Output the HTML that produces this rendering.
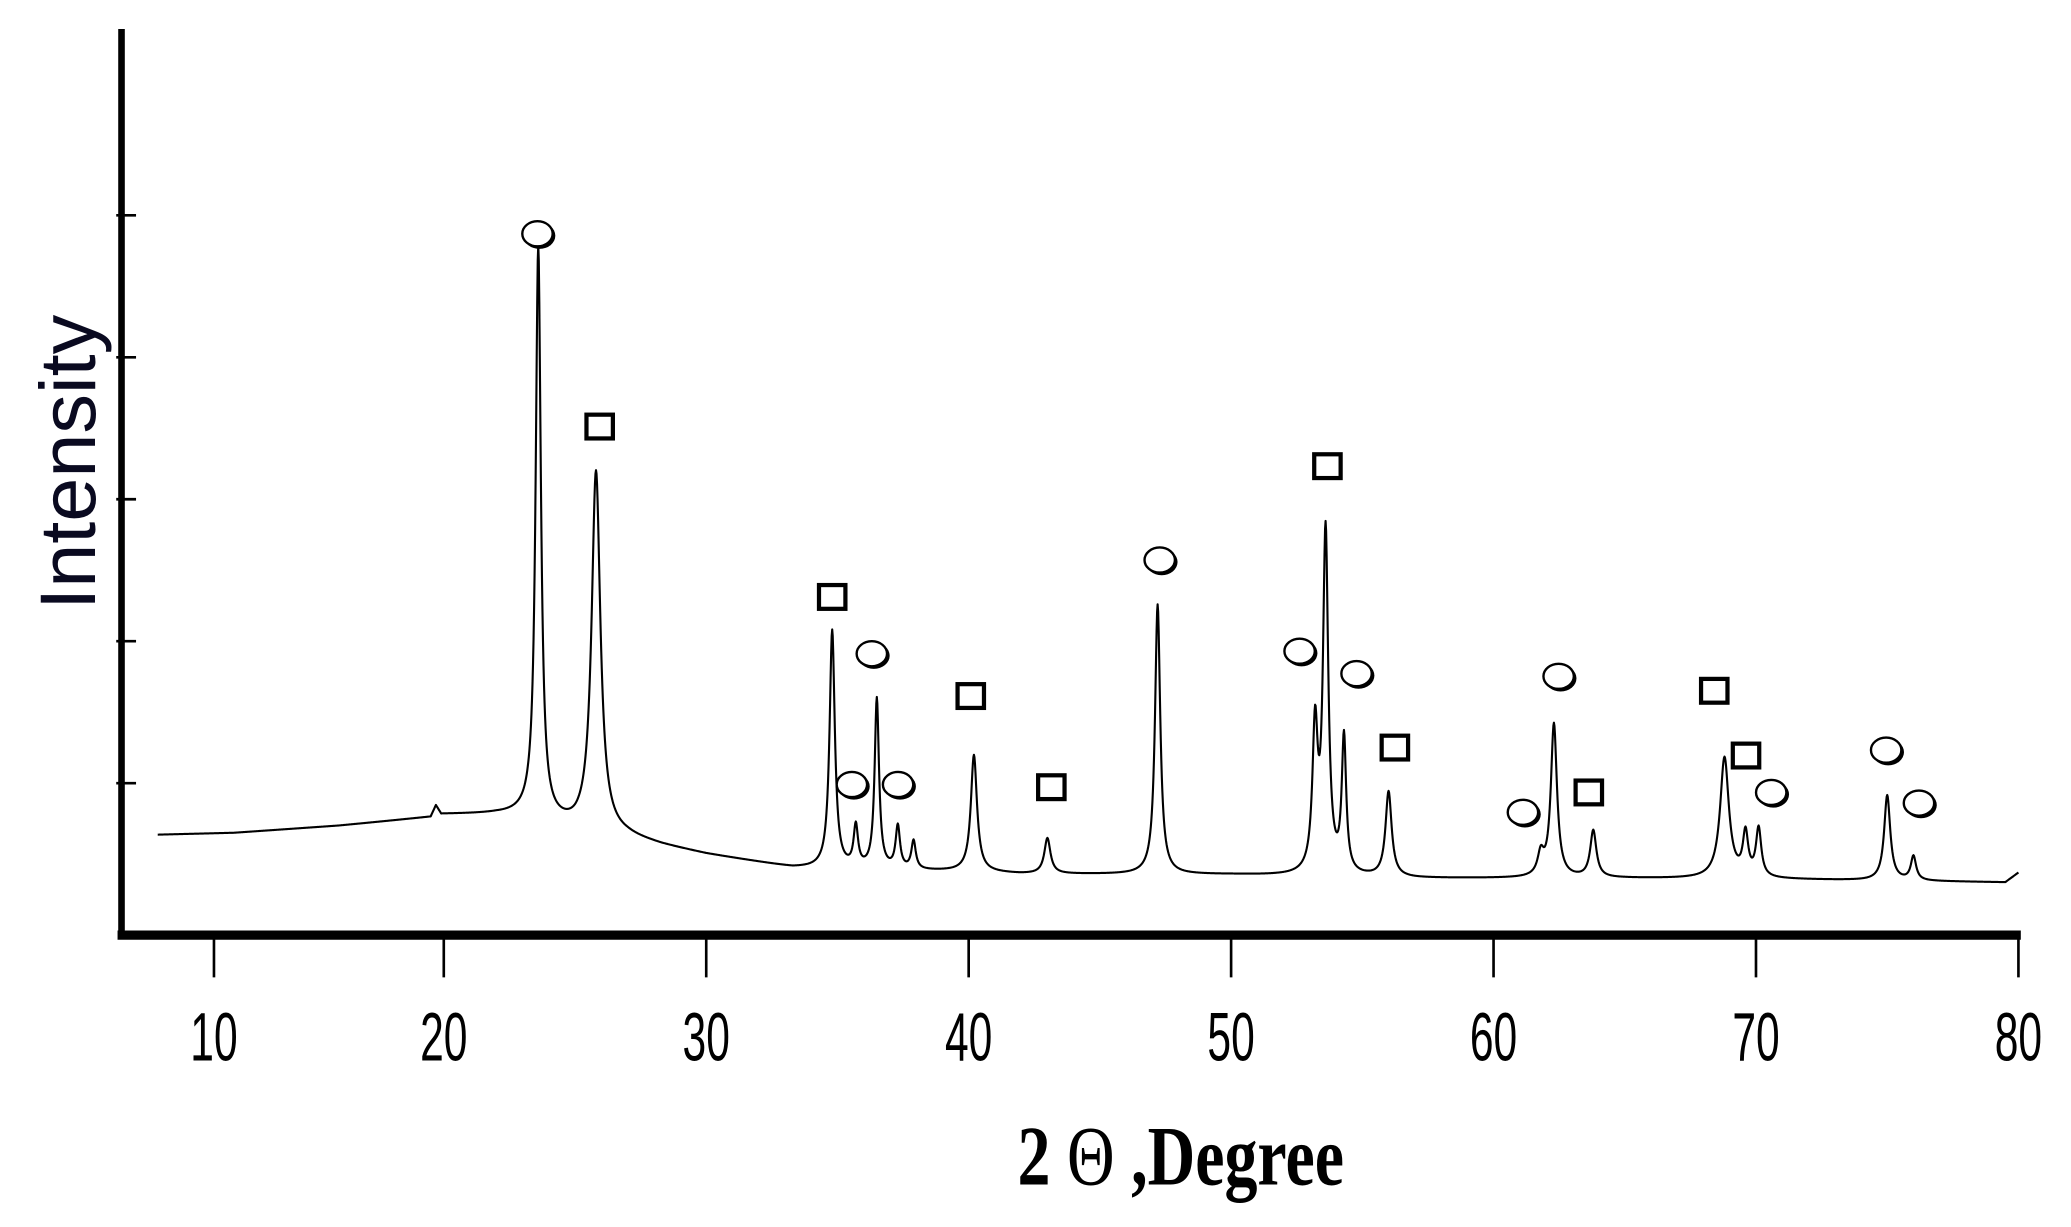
<!DOCTYPE html>
<html><head><meta charset="utf-8"><style>
html,body{margin:0;padding:0;background:#fff;}
svg{display:block;}
</style></head><body>
<svg id="chart" width="2071" height="1227" viewBox="0 0 1568 929" preserveAspectRatio="none" xmlns="http://www.w3.org/2000/svg">
<g id="axes"></g>
<path id="trace" fill="none" stroke="#000" stroke-width="1.6" stroke-linejoin="round"/>
<g id="markers"></g>
<text transform="translate(72,350) rotate(-90)" text-anchor="middle" font-family="Liberation Sans, sans-serif" font-size="60" fill="#0a0a20">Intensity</text>
<text transform="translate(894,897) scale(0.78,1)" text-anchor="middle" font-family="Liberation Serif, serif" font-size="64" font-weight="bold" fill="#000">2 <tspan font-weight="normal">Θ</tspan> ,Degree</text>
</svg>
<script>
const xTicks = [10,20,30,40,50,60,70,80];
const yTicks = [1000,2000,3000,4000,5000];
const bgDeg = [9.1,12,16,19.5,19.7,19.9,22,23.2,25,27,28.3,30,33.3,35,40,42,45,50,57,60,65,70,79.5,80];
const bgVal = [637,650,700,760,840,780,780,770,674,620,563,500,405,390,377,360,358,355,330,330,330,325,302,370];
const peakDeg = [23.6,25.8,34.8,35.7,36.5,37.3,37.9,40.2,43.0,47.2,53.2,53.6,54.3,56.0,61.8,62.3,63.8,68.8,69.6,70.1,75.0,76.0];
const peakHeight = [4020,2540,1680,290,1200,300,200,820,250,1900,1000,2400,950,600,150,1080,330,850,300,340,600,170];
const peakWidth = [0.12,0.2,0.12,0.1,0.1,0.1,0.1,0.14,0.14,0.12,0.12,0.12,0.1,0.14,0.14,0.14,0.14,0.2,0.12,0.12,0.14,0.12];
const circleDeg = [23.57,36.31,35.55,37.31,47.28,52.61,54.78,61.12,62.48,70.58,74.96,76.21];
const circleVal = [4870,1912,991,991,2572,1930,1772,795,1753,935,1233,860];
const squareDeg = [25.94,34.80,40.08,43.15,53.67,56.24,63.63,68.41,69.62];
const squareVal = [3512,2312,1614,972,3233,1251,935,1651,1195];

const NS='http://www.w3.org/2000/svg';
function xs(d){return 336+(d-20)*19.87;}
function ys(v){return 700.5-v*0.1075;}
function mk(tag,attrs,parent){const e=document.createElementNS(NS,tag);for(const k in attrs)e.setAttribute(k,attrs[k]);parent.appendChild(e);return e;}
const axes=document.getElementById('axes');
let e=mk('line',{x1:92,y1:22,x2:92,y2:711,stroke:'#000','stroke-width':5},axes);


e=mk('line',{x1:89,y1:708,x2:1530,y2:708,stroke:'#000','stroke-width':7},axes);


yTicks.forEach(v=>{
  const t=mk('line',{x1:88,y1:ys(v),x2:103,y2:ys(v),stroke:'#000','stroke-width':2},axes);
  
  
});
xTicks.forEach(v=>{
  const x = v===10 ? 162 : xs(v);
  const t=mk('line',{x1:x,y1:708,x2:x,y2:740,stroke:'#000','stroke-width':2},axes);
  
  
  const l=mk('text',{transform:'translate('+x+',803) scale(0.62,1)','text-anchor':'middle','font-family':'Liberation Sans, sans-serif','font-size':52,fill:'#000'},axes);
  l.textContent=v;
  
  
});
function bg(d){
  for(let i=0;i<bgDeg.length-1;i++){if(d>=bgDeg[i]&&d<=bgDeg[i+1]){const f=(d-bgDeg[i])/(bgDeg[i+1]-bgDeg[i]);return bgVal[i]+f*(bgVal[i+1]-bgVal[i]);}}
  return bgVal[bgVal.length-1];
}
let p='';
for(let d=9.1;d<=80.001;d+=0.02){
  let v=bg(d);
  for(let i=0;i<peakDeg.length;i++){const u=(d-peakDeg[i])/peakWidth[i];v+=peakHeight[i]/(1+u*u);}
  p+=(p?'L':'M')+xs(d).toFixed(2)+','+ys(v).toFixed(2);
}
document.getElementById('trace').setAttribute('d',p);
const mg=document.getElementById('markers');
circleDeg.forEach((d,i)=>{
  const cx=xs(d),cy=ys(circleVal[i]);
  const s=mk('ellipse',{cx:cx+1.5,cy:cy+1.5,rx:12,ry:10,fill:'#000'},mg);
  
  
  const c=mk('ellipse',{cx:cx,cy:cy,rx:11.5,ry:9.5,fill:'#fff',stroke:'#000','stroke-width':1.8},mg);
  
  
});
squareDeg.forEach((d,i)=>{
  const cx=xs(d),cy=ys(squareVal[i]);
  const r=mk('rect',{x:cx-10,y:cy-9,width:20,height:18,fill:'#fff',stroke:'#000','stroke-width':3.2},mg);
  
  
});
</script>
</body></html>
